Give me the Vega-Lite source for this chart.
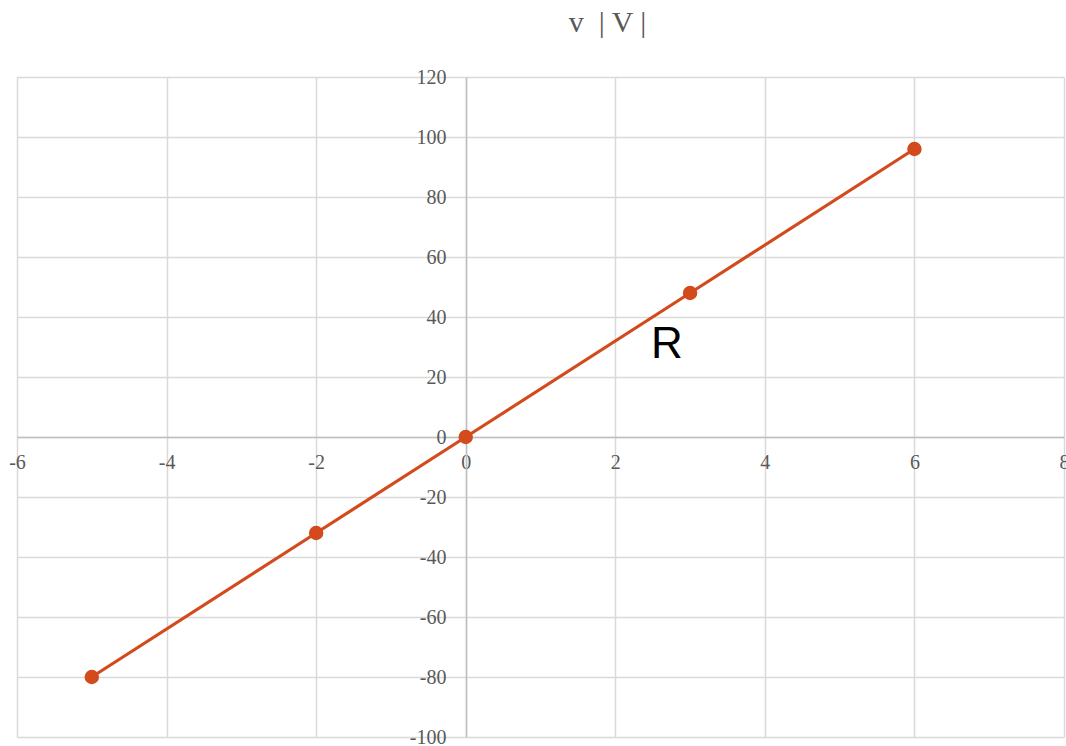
{
  "$schema": "https://vega.github.io/schema/vega-lite/v6.json",
  "autosize": {"type": "none"},
  "width": 1047,
  "height": 660,
  "padding": {"left": 17, "top": 77, "right": 2, "bottom": 9},
  "background": "white",
  "title": {
    "text": "v\u00a0\u00a0| V |",
    "font": "Liberation Serif",
    "fontSize": 30,
    "fontWeight": "normal",
    "color": "#595959",
    "anchor": "middle",
    "dx": 67,
    "offset": 29
  },
  "config": {
    "view": {"stroke": null},
    "axis": {"labelFont": "Liberation Serif", "labelFontSize": 20, "labelColor": "#595959", "title": null}
  },
  "datasets": {
    "pts": [
      {"i": -5, "v": -80},
      {"i": -2, "v": -32},
      {"i": 0, "v": 0},
      {"i": 3, "v": 48},
      {"i": 6, "v": 96}
    ],
    "note": [
      {"i": 2.69, "v": 26.5, "label": "R"}
    ]
  },
  "resolve": {"axis": {"x": "independent", "y": "independent"}},
  "layer": [
    {
      "data": {"name": "pts"},
      "mark": {"type": "line", "color": "#d34a1c", "strokeWidth": 3.2},
      "encoding": {
        "x": {"field": "i", "type": "quantitative", "scale": {"domain": [-6, 8], "nice": false},
          "axis": {"orient": "top", "values": [-6, -4, -2, 0, 2, 4, 6, 8], "grid": true, "gridColor": "#d9d9d9", "gridWidth": 1.5, "domain": false, "ticks": false, "labels": false}},
        "y": {"field": "v", "type": "quantitative", "scale": {"domain": [-100, 120], "nice": false},
          "axis": {"orient": "right", "values": [-100, -80, -60, -40, -20, 0, 20, 40, 60, 80, 100, 120], "grid": true, "gridColor": "#d9d9d9", "gridWidth": 1.5, "domain": false, "ticks": false, "labels": false}}
      }
    },
    {
      "data": {"name": "pts"},
      "mark": {"type": "point", "filled": true, "opacity": 1, "color": "#d34a1c", "size": 210},
      "encoding": {
        "x": {"field": "i", "type": "quantitative",
          "axis": {"orient": "bottom", "offset": -300, "values": [-6, -4, -2, 0, 2, 4, 6, 8], "labelExpr": "datum.value + ''", "grid": false, "domain": true, "domainColor": "#bfbfbf", "domainWidth": 1.5, "ticks": false, "labelPadding": 15, "labelFlush": false, "labelOverlap": false}},
        "y": {"field": "v", "type": "quantitative",
          "axis": {"orient": "left", "offset": -449, "values": [-100, -80, -60, -40, -20, 0, 20, 40, 60, 80, 100, 120], "labelExpr": "datum.value + ''", "grid": false, "domain": true, "domainColor": "#bfbfbf", "domainWidth": 1.5, "ticks": false, "labelPadding": 20, "labelFlush": false, "labelOverlap": false}}
      }
    },
    {
      "data": {"name": "note"},
      "mark": {"type": "text", "font": "Liberation Sans", "fontSize": 44, "color": "#000000", "align": "center", "baseline": "alphabetic"},
      "encoding": {
        "x": {"field": "i", "type": "quantitative", "axis": null},
        "y": {"field": "v", "type": "quantitative", "axis": null},
        "text": {"field": "label"}
      }
    }
  ]
}
